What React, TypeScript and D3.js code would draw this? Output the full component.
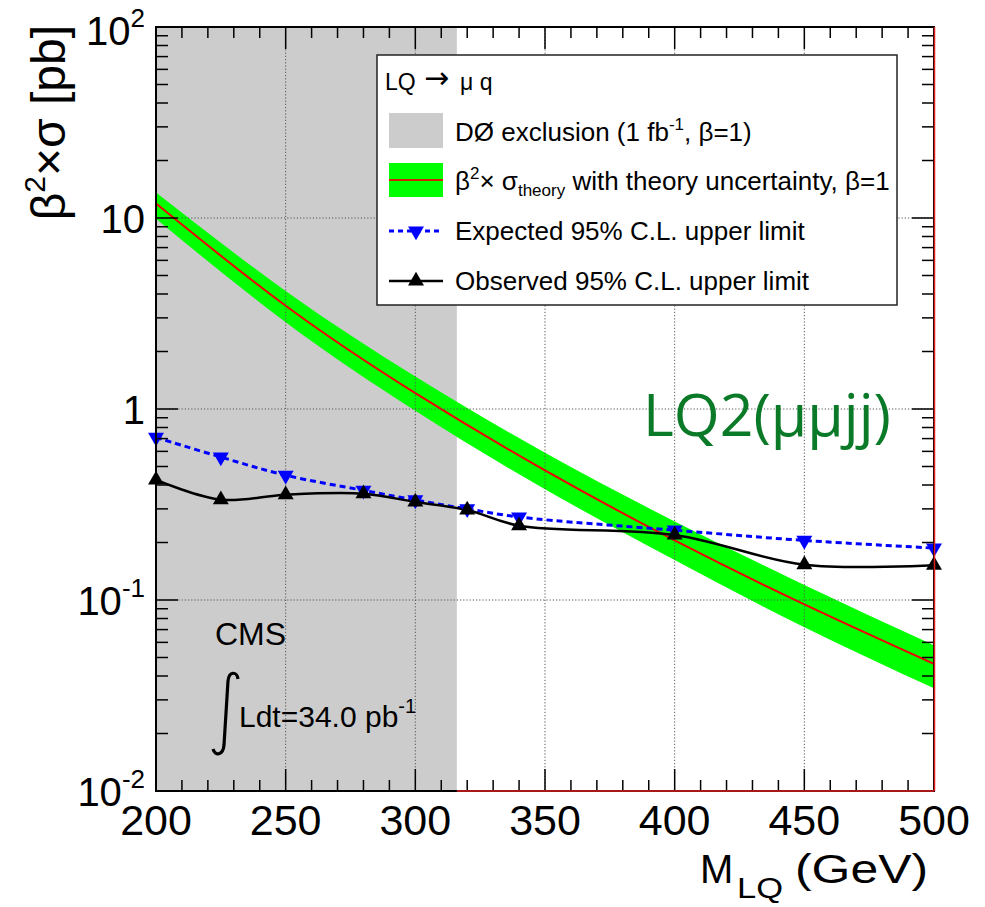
import React from "react";
import * as d3 from "d3";

// ---- data ----
const massPoints = [200, 225, 250, 280, 300, 320, 340, 400, 450, 500];
const expectedLimit = [0.71, 0.56, 0.45, 0.375, 0.334, 0.3, 0.272, 0.232, 0.205, 0.187];
const observedLimit = [0.425, 0.335, 0.356, 0.36, 0.326, 0.296, 0.245, 0.219, 0.153, 0.152];

const theoryMass = [200, 250, 300, 350, 400, 450, 500];
const theoryXsec = [11.9, 3.47, 1.21, 0.477, 0.205, 0.0949, 0.0463];
const theoryUp = [13.6, 4.15, 1.48, 0.59, 0.258, 0.12, 0.058];
const theoryDown = [9.9, 2.85, 0.98, 0.38, 0.162, 0.072, 0.0345];

const d0ExclusionMass = 316;

const xTickValues = [200, 250, 300, 350, 400, 450, 500];
const yTickExponents = [-2, -1, 0, 1, 2];

const FONT = "'Liberation Sans', Arial, Helvetica, sans-serif";

export default function App() {
  const left = 156, right = 934, top = 27, bottom = 791;
  const x = d3.scaleLinear().domain([200, 500]).range([left, right]);
  const y = d3.scaleLog().domain([0.01, 100]).range([bottom, top]);

  const idxT = d3.range(theoryMass.length);
  const idxP = d3.range(massPoints.length);

  const band = d3
    .area<number>()
    .x((i) => x(theoryMass[i]))
    .y0((i) => y(theoryDown[i]))
    .y1((i) => y(theoryUp[i]))
    .curve(d3.curveNatural)(idxT) as string;
  const theoryLine = d3
    .line<number>()
    .x((i) => x(theoryMass[i]))
    .y((i) => y(theoryXsec[i]))
    .curve(d3.curveNatural)(idxT) as string;
  const expLine = d3
    .line<number>()
    .x((i) => x(massPoints[i]))
    .y((i) => y(expectedLimit[i]))
    .curve(d3.curveCatmullRom.alpha(0.5))(idxP) as string;
  const obsLine = d3
    .line<number>()
    .x((i) => x(massPoints[i]))
    .y((i) => y(observedLimit[i]))
    .curve(d3.curveCatmullRom.alpha(0.5))(idxP) as string;

  const tri = d3.symbol().type(d3.symbolTriangle).size(110)() as string;

  const xMinor = d3.range(200, 501, 10);
  const yMinor: number[] = [];
  for (let e = -2; e < 2; e++) for (let k = 1; k <= 9; k++) yMinor.push(k * Math.pow(10, e));
  yMinor.push(100);

  const gridDash = "1.2 2";
  const gridColor = "#555";

  return (
    <svg
      width={985}
      height={907}
      style={{ position: "absolute", left: 0, top: 0, background: "#fff" }}
      fontFamily={FONT}
    >
      <defs>
        <clipPath id="plotClip">
          <rect x={left} y={top} width={right - left} height={bottom - top} />
        </clipPath>
      </defs>
      <rect x={0} y={0} width={985} height={907} fill="#fff" />

      {/* DØ exclusion */}
      <rect x={left} y={top} width={x(d0ExclusionMass) - left} height={bottom - top} fill="#cccccc" />

      {/* theory band */}
      <g clipPath="url(#plotClip)">
        <path d={band} fill="#00ff00" stroke="none" />
        <path d={theoryLine} fill="none" stroke="#f00000" strokeWidth={2} />
      </g>

      {/* grid */}
      <g stroke={gridColor} strokeWidth={1} strokeDasharray={gridDash}>
        {xTickValues.slice(1, -1).map((v) => (
          <line key={"gx" + v} x1={x(v)} x2={x(v)} y1={top} y2={bottom} />
        ))}
        {yTickExponents.slice(1, -1).map((e) => (
          <line key={"gy" + e} x1={left} x2={right} y1={y(Math.pow(10, e))} y2={y(Math.pow(10, e))} />
        ))}
      </g>

      {/* limits */}
      <g clipPath="url(#plotClip)">
        <path d={expLine} fill="none" stroke="#0000ff" strokeWidth={3} strokeDasharray="6 4" />
        <path d={obsLine} fill="none" stroke="#000" strokeWidth={2.5} />
      </g>
      {idxP.map((i) => (
        <path
          key={"e" + i}
          d={tri}
          transform={`translate(${x(massPoints[i])},${y(expectedLimit[i])}) rotate(180)`}
          fill="#0000ff"
        />
      ))}
      {idxP.map((i) => (
        <path key={"o" + i} d={tri} transform={`translate(${x(massPoints[i])},${y(observedLimit[i])})`} fill="#000" />
      ))}

      {/* ticks */}
      <g stroke="#000" strokeWidth={1.5}>
        {xMinor.map((v) => {
          const L = v % 50 === 0 ? 22 : 11;
          return (
            <g key={"xt" + v}>
              <line x1={x(v)} x2={x(v)} y1={bottom} y2={bottom - L} />
              <line x1={x(v)} x2={x(v)} y1={top} y2={top + L} />
            </g>
          );
        })}
        {yMinor.map((v, i) => {
          const major = Math.abs(Math.log10(v) - Math.round(Math.log10(v))) < 1e-9;
          const L = major ? 22 : 12;
          return (
            <g key={"yt" + i}>
              <line x1={left} x2={left + L} y1={y(v)} y2={y(v)} />
              <line x1={right} x2={right - L} y1={y(v)} y2={y(v)} />
            </g>
          );
        })}
      </g>

      {/* frame */}
      <rect x={left} y={top} width={right - left} height={bottom - top} fill="none" stroke="#000" strokeWidth={2} />
      <line x1={x(d0ExclusionMass)} x2={right} y1={bottom} y2={bottom} stroke="#e02020" strokeWidth={1.5} />
      <line x1={right + 0.5} x2={right + 0.5} y1={top} y2={bottom} stroke="#e02020" strokeWidth={1.5} />

      {/* x tick labels */}
      {xTickValues.map((v) => (
        <text key={"xl" + v} x={x(v)} y={835} fontSize={43} textAnchor="middle" fill="#000">
          {v}
        </text>
      ))}
      {/* y tick labels */}
      {yTickExponents.map((e) => {
        const yy = y(Math.pow(10, e)) + 15;
        if (e === 0)
          return (
            <text key={"yl" + e} x={145} y={yy} fontSize={40} textAnchor="end">
              1
            </text>
          );
        if (e === 1)
          return (
            <text key={"yl" + e} x={145} y={yy} fontSize={40} textAnchor="end">
              10
            </text>
          );
        return (
          <text key={"yl" + e} x={145} y={yy + (e === 2 ? 3 : 0)} fontSize={40} textAnchor="end">
            10
            <tspan fontSize={26} dy={-18}>
              {e < 0 ? "-" + Math.abs(e) : String(e)}
            </tspan>
          </text>
        );
      })}

      {/* axis titles */}
      <text x={700} y={883} fontSize={40}>M</text>
      <text x={737} y={898} fontSize={30} textLength={46} lengthAdjust="spacingAndGlyphs">LQ</text>
      <text x={795} y={883} fontSize={40} textLength={133} lengthAdjust="spacingAndGlyphs">(GeV)</text>

      <g transform="translate(65,0) rotate(-90)">
        <text x={-25} y={0} fontSize={48} textAnchor="end">
          β<tspan fontSize={30} dy={-20}>2</tspan>
          <tspan dy={20}>×σ [pb]</tspan>
        </text>
      </g>

      {/* CMS */}
      <text x={215} y={645} fontSize={32}>CMS</text>
      <path
        d="M 238 679 C 237 671, 229 671, 228 681 L 224 745 C 223 756, 215 756, 213 749"
        fill="none"
        stroke="#000"
        strokeWidth={3.2}
      />
      <text x={239} y={727} fontSize={30}>
        Ldt=34.0 pb<tspan fontSize={20} dy={-14}>-1</tspan>
      </text>

      {/* LQ2 label */}
      <text x={643} y={436} fontSize={59} fill="#0a7a28" fontFamily="'Open Sans', 'Noto Sans', sans-serif">
        LQ2(μμjj)
      </text>

      {/* legend */}
      <rect x={377} y={55} width={520} height={250} fill="#fff" stroke="#222" strokeWidth={1.5} />
      <text x={385} y={90} fontSize={23}>LQ</text>
      <text x={424} y={88} fontSize={30} fontFamily="'DejaVu Sans', sans-serif">→</text>
      <text x={460} y={90} fontSize={23}>μ q</text>

      <rect x={389} y={113} width={54} height={35} fill="#cccccc" />
      <text x={455} y={141} fontSize={26}>
        DØ exclusion (1 fb<tspan fontSize={17} dy={-11}>-1</tspan>
        <tspan dy={11}>, β=1)</tspan>
      </text>

      <rect x={389} y={163} width={54} height={34} fill="#00ff00" />
      <line x1={389} x2={443} y1={180} y2={180} stroke="#d02000" strokeWidth={2} />
      <text x={455} y={190} fontSize={26}>
        β<tspan fontSize={17} dy={-11}>2</tspan>
        <tspan dy={11}>× σ</tspan>
        <tspan fontSize={17} dy={6}>theory</tspan>
        <tspan dy={-6}> with theory uncertainty, β=1</tspan>
      </text>

      <line x1={389} x2={443} y1={231} y2={231} stroke="#0000ff" strokeWidth={3} strokeDasharray="5 4" />
      <path d={tri} transform="translate(416,231) rotate(180)" fill="#0000ff" />
      <text x={455} y={240} fontSize={26}>Expected 95% C.L. upper limit</text>

      <line x1={389} x2={443} y1={281} y2={281} stroke="#000" strokeWidth={2.5} />
      <path d={tri} transform="translate(416,281)" fill="#000" />
      <text x={455} y={290} fontSize={26}>Observed 95% C.L. upper limit</text>
    </svg>
  );
}
